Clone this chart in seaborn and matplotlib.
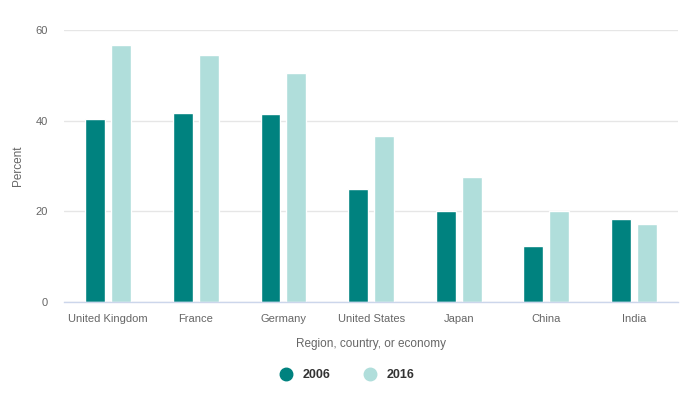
import pandas as pd
import numpy as np
import matplotlib
matplotlib.use("Agg")
import matplotlib.pyplot as plt
import seaborn as sns
from matplotlib.lines import Line2D

# data
regions = ["United Kingdom", "France", "Germany", "United States", "Japan", "China", "India"]
years = ["2006", "2016"]
pct_2006 = [40.3, 41.8, 41.4, 24.9, 20.1, 12.4, 18.3]
pct_2016 = [56.8, 54.4, 50.6, 36.7, 27.5, 20.1, 17.2]

colors = {"2006": "#00827f", "2016": "#b0dedb"}

df = pd.DataFrame({
    "Region": regions * 2,
    "Year": ["2006"] * len(regions) + ["2016"] * len(regions),
    "Percent": pct_2006 + pct_2016,
})

sns.set_style("white")
plt.rcParams['font.family'] = ['Liberation Sans', 'DejaVu Sans']

fig = plt.figure(figsize=(6.84, 4.0), dpi=100)
ax = fig.add_axes([0.094, 0.245, 0.897, 0.68])

# bar width ~20px with ~6px gap inside each pair
sns.barplot(data=df, x="Region", y="Percent", hue="Year", order=regions,
            hue_order=years, palette=colors, width=0.59, gap=0.23,
            saturation=1, errorbar=None, legend=False, ax=ax)

ax.set_ylim(0, 60)
ax.set_yticks([0, 20, 40, 60])
ax.set_xlim(-0.5, len(regions) - 0.5)
ax.yaxis.grid(True, color="#e6e6e6", linewidth=1)
ax.set_axisbelow(True)
for s in ["top", "right", "left"]:
    ax.spines[s].set_visible(False)
ax.spines["bottom"].set_color("#ccd6eb")
ax.spines["bottom"].set_linewidth(1)

ax.tick_params(axis="x", length=4, width=1, color="#ccd6eb", direction="out",
               pad=5, labelsize=8, labelcolor="#666666")
ax.tick_params(axis="y", length=0, pad=12, labelsize=8, labelcolor="#666666")

ax.set_xlabel("Region, country, or economy", fontsize=8.5, color="#666666", labelpad=10)
ax.set_ylabel("Percent", fontsize=8.5, color="#666666", labelpad=8)

handles = [Line2D([], [], marker="o", linestyle="", markersize=9,
                  markerfacecolor=colors[y], markeredgecolor=colors[y]) for y in years]
leg = fig.legend(handles, years, loc="center", bbox_to_anchor=(0.503, 0.0625),
                 ncol=2, frameon=False, handletextpad=0.3, columnspacing=2.2,
                 prop={"size": 9, "weight": "bold"})
for t in leg.get_texts():
    t.set_color("#333333")

plt.savefig("out.png", dpi=100)
plt.close()
